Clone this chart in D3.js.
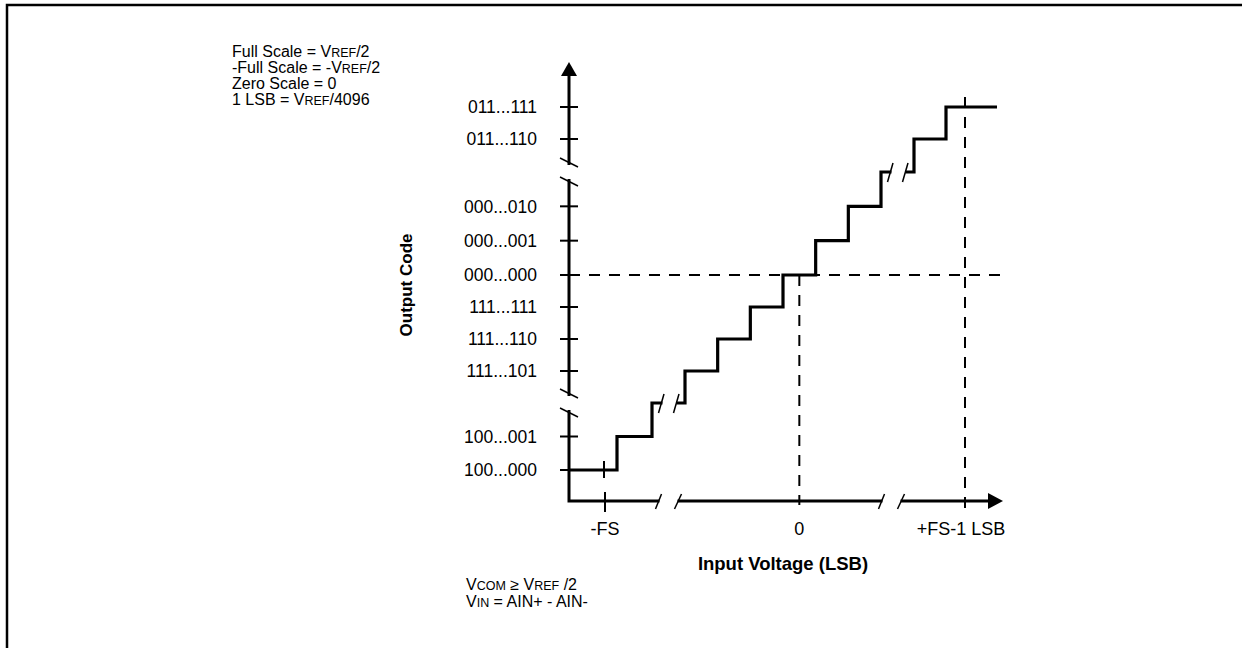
<!DOCTYPE html>
<html><head><meta charset="utf-8">
<script src="https://cdn.jsdelivr.net/npm/d3@7"></script>
<style>
body{margin:0;background:#fff}
svg{display:block}
text{font-family:"Liberation Sans",Arial,Helvetica,sans-serif;fill:#000}
</style>
</head><body>
<svg id="chart" width="1242" height="648"></svg>
<script>
// ---- data ----
const codes = [-2048, -2047, -2046, -3, -2, -1, 0, 1, 2, 3, 2046, 2047];
const codeStarts = [-2049, -2047.5, -2046.5, -3.5, -2.5, -1.5, -0.5, 0.5, 1.5, 2.5, 2045.5, 2046.5];
const inputEnd = 2048;
const yTickCodes = [2047, 2046, 2, 1, 0, -1, -2, -3, -2047, -2048];
const yTickLabels = ["011...111", "011...110", "000...010", "000...001", "000...000",
                     "111...111", "111...110", "111...101", "100...001", "100...000"];
const xTickValues = [-2048, 0, 2047];
const xTickLabels = ["-FS", "0", "+FS-1 LSB"];
const yBreakCodes = [3, -2046];          // compressed steps on the code axis
const xBreakSteps = [2, 9];              // indices of compressed steps on the input axis
const notesTop = [
  [["Full Scale = V",0],["REF",1],["/2",0]],
  [["-Full Scale = -V",0],["REF",1],["/2",0]],
  [["Zero Scale = 0",0]],
  [["1 LSB = V",0],["REF",1],["/4096",0]]
];
const notesBottom = [
  [["V",0],["COM",1],[" \u2265 V",0],["REF",1],[" /2",0]],
  [["V",0],["IN",1],[" = AIN+ - AIN-",0]]
];

// ---- scales (broken axes as polylinear scales) ----
const x = d3.scaleLinear()
  .domain([-2049, -2048, -2047.5, -2046.5, -3.5, 2.5, 2045.5, 2046.5, 2047, 2048])
  .range([569, 605, 617, 652, 685, 881, 914, 946, 965, 997]);
const y = d3.scaleLinear()
  .domain([-2049, -2048, -2046, -3, 0, 3, 2046, 2047])
  .range([501, 470, 403, 371, 275, 172, 139, 107]);

const svg = d3.select("#chart");
const x0 = x(-2049), y0 = y(-2049);

// frame
svg.append("rect").attr("x", 7).attr("y", 5).attr("width", 1400).attr("height", 800)
  .attr("fill", "none").attr("stroke", "#000").attr("stroke-width", 2.5);

function line(x1, y1, x2, y2, attrs) {
  const l = svg.append("line").attr("x1", x1).attr("y1", y1).attr("x2", x2).attr("y2", y2);
  for (const k in attrs) l.attr(k, attrs[k]);
  return l;
}

// dashed reference lines
const dash = {stroke: "#000", "stroke-width": 2, "stroke-dasharray": "11,9", fill: "none"};
line(x0, y(0), x(inputEnd) + 3, y(0), dash);
line(x(0), y(0), x(0), y0 + 4, dash);
line(x(2047), y(2047) - 10, x(2047), y0 + 12, dash);

// axes
svg.append("path")
  .attr("d", `M${x0},${y(2047) - 32} V${y0} H${x(inputEnd) - 9}`)
  .attr("fill", "none").attr("stroke", "#000").attr("stroke-width", 3).attr("stroke-linejoin", "miter");
svg.append("path").attr("d", `M${x0},${y(2047) - 45} L${x0 + 8},${y(2047) - 31} L${x0 - 8},${y(2047) - 31} Z`);
svg.append("path").attr("d", `M${x(inputEnd) + 6},${y0} L${x(inputEnd) - 9},${y0 - 8} L${x(inputEnd) - 9},${y0 + 8} Z`);

// y ticks + labels
yTickCodes.forEach((c, i) => {
  line(x0 - 9, y(c), x0 + 9, y(c), {stroke: "#000", "stroke-width": 2});
  svg.append("text").attr("x", x0 - 32).attr("y", y(c)).attr("dy", "0.36em")
    .attr("text-anchor", "end").style("font-size", "17.5px").text(yTickLabels[i]);
});

// x ticks + labels
xTickValues.forEach((v, i) => {
  if (i === 0) line(x(v), y0 - 9, x(v), y0 + 11, {stroke: "#000", "stroke-width": 2});
  svg.append("text").attr("x", x(v) - (i === 2 ? 4 : 0)).attr("y", y0 + 34)
    .attr("text-anchor", "middle").style("font-size", "18px").text(xTickLabels[i]);
});

// transfer function staircase
const pts = codes.map((c, i) => [codeStarts[i], c]);
pts.push([inputEnd, codes[codes.length - 1]]);
svg.append("path").datum(pts)
  .attr("d", d3.line().x(d => x(d[0])).y(d => y(d[1])).curve(d3.curveStepAfter))
  .attr("fill", "none").attr("stroke", "#000").attr("stroke-width", 3.2).attr("stroke-linejoin", "miter");
// -FS marker on first step
line(x(-2048) - 1, y(-2048) - 9, x(-2048) - 1, y(-2048) + 8, {stroke: "#000", "stroke-width": 2});

// breaks
const thin = {stroke: "#000", "stroke-width": 1.5};
yBreakCodes.forEach(c => {
  const cy = y(c);
  line(x0, cy - 7, x0, cy + 7, {stroke: "#fff", "stroke-width": 6});
  line(x0 - 9, cy - 14, x0 + 9, cy - 5, thin);
  line(x0 - 9, cy + 5, x0 + 9, cy + 14, thin);
});
xBreakSteps.forEach((si, k) => {
  const cx = (x(codeStarts[si]) + x(codeStarts[si + 1])) / 2;
  const cy = y(codes[si]);
  line(cx - 6, cy, cx + 8, cy, {stroke: "#fff", "stroke-width": 6});
  line(cx - 10, cy + 10, cx - 4.5, cy - 9, thin);
  line(cx + 5, cy + 10, cx + 10.5, cy - 9, thin);
  const ax = cx - (k === 0 ? 0 : 6);
  line(ax - 9, y0, ax + 9, y0, {stroke: "#fff", "stroke-width": 6});
  line(ax - 13, y0 + 8, ax - 7, y0 - 7, thin);
  line(ax + 6, y0 + 8, ax + 13, y0 - 7, thin);
});

// axis titles
svg.append("text").attr("transform", `translate(412,${y(0) + 10}) rotate(-90)`)
  .attr("text-anchor", "middle").style("font-size", "17px").style("font-weight", "bold").text("Output Code");
svg.append("text").attr("x", 783).attr("y", y0 + 69).attr("text-anchor", "middle")
  .style("font-size", "18.5px").style("font-weight", "bold").text("Input Voltage (LSB)");

// notes
function notes(lines, x, yStart, pitch) {
  lines.forEach((parts, i) => {
    const t = svg.append("text").attr("x", x).attr("y", yStart + i * pitch).style("font-size", "16px");
    parts.forEach(p => t.append("tspan").style("font-size", p[1] ? "12.5px" : "16px").text(p[0]));
  });
}
notes(notesTop, 232, 57, 16);
notes(notesBottom, 466, 590, 16.5);
</script>
</body></html>
